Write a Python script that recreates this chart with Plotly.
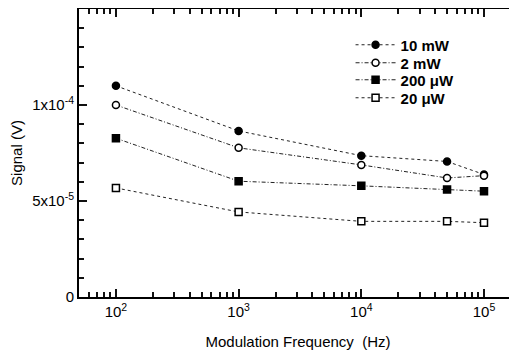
import plotly.graph_objects as go
import numpy as np

freq = [100, 1000, 10000, 50000, 100000]
s_10mW = [1.10e-4, 8.65e-5, 7.36e-5, 7.06e-5, 6.38e-5]
s_2mW = [1.00e-4, 7.77e-5, 6.88e-5, 6.20e-5, 6.32e-5]
s_200uW = [8.27e-5, 6.03e-5, 5.79e-5, 5.60e-5, 5.51e-5]
s_20uW = [5.68e-5, 4.43e-5, 3.94e-5, 3.94e-5, 3.87e-5]
names = ["10 mW", "2 mW", "200 \u03bcW", "20 \u03bcW"]

xtick_vals = [100, 1000, 10000, 100000]
xtick_text = ["10<sup>2</sup>", "10<sup>3</sup>", "10<sup>4</sup>", "10<sup>5</sup>"]
ytick_vals = [0, 5e-5, 1e-4]
ytick_text = ["0", "5x10<sup>-5</sup>", "1x10<sup>-4</sup>"]

series = [s_10mW, s_2mW, s_200uW, s_20uW]
styles = [
    dict(symbol="circle", fill="black", dash="dot"),
    dict(symbol="circle", fill="white", dash="4px,2px,1px,2px"),
    dict(symbol="square", fill="black", dash="4px,2px,1px,2px"),
    dict(symbol="square", fill="white", dash="dot"),
]

XR = [np.log10(50), 5.269]
YR = [0, 1.5e-4]

fig = go.Figure()
legend_names = ["legend", "legend2", "legend3", "legend4"]
for i, (name, ys, st) in enumerate(zip(names, series, styles)):
    fig.add_trace(go.Scatter(
        x=freq, y=ys, name=name, mode="lines+markers",
        legend=legend_names[i],
        line=dict(color="#222", width=1, dash=st["dash"]),
        marker=dict(symbol=st["symbol"], size=7, color=st["fill"],
                    line=dict(color="black", width=1.5)),
    ))

# invisible helper trace so the minor-tick overlay axes get drawn
fig.add_trace(go.Scatter(x=[100], y=[0], xaxis="x2", yaxis="y2", mode="markers",
                         marker=dict(opacity=0), showlegend=False, hoverinfo="skip"))

minor_x = []
for d in [10, 100, 1000, 10000, 100000]:
    for k in range(2, 10):
        v = d * k
        if 50 <= v <= 2e5:
            minor_x.append(v)
minor_y = [i * 1e-5 for i in range(0, 16) if i % 5 != 0]

font = dict(family="Liberation Sans, Arial, sans-serif", size=15, color="black")
lfont = dict(family="Liberation Sans, Arial, sans-serif", size=15, color="black", weight="bold")

W, H = 509, 348
legend_rows = [45, 63, 80, 98]
layout_legends = {}
plot_top, plot_bot = 1, 289
for ln, yc in zip(legend_names, legend_rows):
    fy = yc - 8
    ypaper = (plot_bot - fy) / (plot_bot - plot_top)
    layout_legends[ln] = dict(x=0.62, y=ypaper, xanchor="left", yanchor="middle",
                              bgcolor="rgba(0,0,0,0)", font=lfont, itemwidth=40)

TICK = "#111111"
fig.update_layout(
    width=W, height=H,
    margin=dict(l=71, r=0, t=plot_top, b=H - plot_bot, pad=0),
    paper_bgcolor="white", plot_bgcolor="white",
    font=font,
    showlegend=True,
    **layout_legends,
    xaxis=dict(
        type="log", range=XR,
        tickmode="array", tickvals=xtick_vals, ticktext=xtick_text,
        ticks="inside", ticklen=8, tickwidth=2, tickcolor=TICK,
        showline=True, linecolor="black", linewidth=2, mirror="ticks",
        showgrid=False, zeroline=False, tickfont=dict(size=15),
        title=dict(text="Modulation Frequency  (Hz)", standoff=17,
                   font=dict(size=15)),
        automargin=False,
    ),
    yaxis=dict(
        range=YR,
        tickmode="array", tickvals=ytick_vals, ticktext=ytick_text,
        ticks="inside", ticklen=8, tickwidth=2, tickcolor=TICK,
        showline=True, linecolor="black", linewidth=2, mirror="ticks",
        showgrid=False, zeroline=False, tickfont=dict(size=15),
        title=dict(text="Signal (V)", standoff=7, font=dict(size=15)),
        automargin=False,
    ),
    xaxis2=dict(
        type="log", range=XR, overlaying="x", side="bottom",
        tickmode="array", tickvals=minor_x, showticklabels=False,
        ticks="inside", ticklen=5, tickwidth=2, tickcolor=TICK,
        showline=False, mirror="ticks", showgrid=False, zeroline=False,
    ),
    yaxis2=dict(
        range=YR, overlaying="y", side="left",
        tickmode="array", tickvals=minor_y, showticklabels=False,
        ticks="inside", ticklen=5, tickwidth=2, tickcolor=TICK,
        showline=False, mirror="ticks", showgrid=False, zeroline=False,
    ),
)

fig.write_html("out.html")
